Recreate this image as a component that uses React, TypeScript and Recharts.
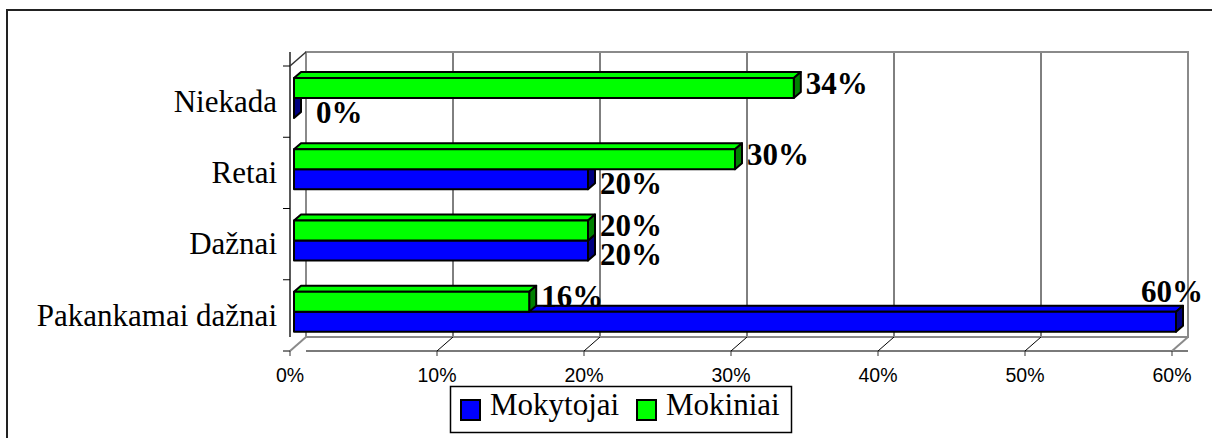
import React from 'react';
import { BarChart, Bar, XAxis, YAxis, CartesianGrid, ReferenceArea, LabelList } from 'recharts';

// ---- data ----
const categories = ['Niekada', 'Retai', 'Dažnai', 'Pakankamai dažnai'];
const mokytojaiValues = [0, 20, 20, 60];
const mokiniaiValues = [34, 30, 20, 16];
const xTicks = [0, 10, 20, 30, 40, 50, 60];
const seriesNames = ['Mokytojai', 'Mokiniai'];

const data = categories.map((name, i) => ({
  name,
  mokytojai: mokytojaiValues[i],
  mokiniai: mokiniaiValues[i],
}));

// ---- style / layout ----
const W = 1212;
const H = 438;
const BLUE = '#0000FF';
const BLUE_SIDE = '#000080';
const GREEN = '#00FF00';
const GREEN_SIDE = '#008000';
const seriesColors = [BLUE, GREEN];
const DEPTH_X = 16;
const DEPTH_Y = 14;
const BAR_DX = -12;
const BAR_DY = 10;
const FACE_DX = 7;
const FACE_DY = 6;
const SERIF = '"Liberation Serif", "Times New Roman", serif';
const SANS = '"Liberation Sans", Arial, sans-serif';
const WALL = '#8a8a8a';
const LEGEND_ITEM_X = [460, 636];

function Bar3D(props: any) {
  const { x, y, width, height, face, side, shift } = props;
  if (x == null || y == null) return null;
  const w = Math.max(0, width || 0);
  const h = height || 0;
  const fx = x + BAR_DX;
  const fy = y + BAR_DY + shift * h;
  const top = `${fx},${fy} ${fx + FACE_DX},${fy - FACE_DY} ${fx + w + FACE_DX},${fy - FACE_DY} ${fx + w},${fy}`;
  const sideP = `${fx + w},${fy} ${fx + w + FACE_DX},${fy - FACE_DY} ${fx + w + FACE_DX},${fy + h - FACE_DY} ${fx + w},${fy + h}`;
  return (
    <g stroke="#000" strokeWidth={2} strokeLinejoin="round">
      <polygon points={top} fill={face} />
      <polygon points={sideP} fill={side} />
      {w > 0 && <rect x={fx} y={fy} width={w} height={h} fill={face} />}
    </g>
  );
}

function ValueLabel(props: any) {
  const vb = props.viewBox || props;
  const { shift, dyC } = props;
  const w = Math.max(0, vb.width || 0);
  const h = vb.height || 0;
  const fx = vb.x + BAR_DX;
  const fy = vb.y + BAR_DY + shift * h;
  const end = fx + w;
  const text = `${props.value}%`;
  if (end + 12 + 64 > W) {
    return (
      <text x={end + 27} y={fy - 10} textAnchor="end" fontFamily={SERIF} fontWeight={700} fontSize={31} fill="#000">
        {text}
      </text>
    );
  }
  const gap = w > 0 ? 12 : 22;
  return (
    <text x={end + gap} y={fy + h / 2 + dyC + 10.5} textAnchor="start" fontFamily={SERIF} fontWeight={700} fontSize={31} fill="#000">
      {text}
    </text>
  );
}

function BackXTick(props: any) {
  const { x, y, index, visibleTicksCount } = props;
  const edge = index === 0 || index === visibleTicksCount - 1;
  return (
    <line x1={x} y1={y} x2={x - DEPTH_X} y2={y + DEPTH_Y} stroke={edge ? WALL : '#000'} strokeWidth={edge ? 2 : 1} />
  );
}

function FrontXTick(props: any) {
  const { x, y, payload } = props;
  return (
    <g>
      <line x1={x} y1={y} x2={x} y2={y + 5} stroke="#333" strokeWidth={1} />
      <text x={x} y={y + 31} textAnchor="middle" fontFamily={SANS} fontSize={19.5} fill="#000">
        {`${payload.value}%`}
      </text>
    </g>
  );
}

function FrontYTick(props: any) {
  const { x, y, payload, index, visibleTicksCount, height } = props;
  const n = visibleTicksCount || categories.length;
  const half = (typeof height === 'number' && height > 0 ? height / n : 71.25) / 2;
  return (
    <g>
      <line x1={x - 7} y1={y - half} x2={x} y2={y - half} stroke="#000" strokeWidth={1} />
      {index === n - 1 && <line x1={x - 7} y1={y + half} x2={x} y2={y + half} stroke="#000" strokeWidth={1} />}
      {index === 0 && (
        <line x1={x} y1={y - half} x2={x + DEPTH_X} y2={y - half - DEPTH_Y} stroke="#333" strokeWidth={1.5} />
      )}
      <text x={x - 13} y={y + 10.3} textAnchor="end" fontFamily={SERIF} fontSize={31} fill="#000">
        {payload.value}
      </text>
    </g>
  );
}

export default function App() {
  return (
    <div style={{ position: 'relative', width: W, height: H, overflow: 'hidden', background: '#fff' }}>
      <style>{'body{margin:0}'}</style>
      <div
        style={{
          position: 'absolute',
          left: 6,
          top: 9,
          width: W + 20,
          height: H + 20,
          border: '2px solid #222',
          boxSizing: 'border-box',
        }}
      />
      <BarChart
        width={W}
        height={H}
        data={data}
        layout="vertical"
        margin={{ top: 52, right: 24, bottom: 27, left: 16 }}
        barSize={20}
        barGap={0}
      >
        <CartesianGrid horizontal={false} stroke="#000" strokeWidth={1} />
        <ReferenceArea x1={0} x2={60} stroke={WALL} strokeWidth={2} fill="none" />
        <XAxis
          type="number"
          domain={[0, 60]}
          ticks={xTicks}
          interval={0}
          height={14}
          axisLine={false}
          tickLine={false}
          tickSize={0}
          tickMargin={0}
          tick={<BackXTick />}
        />
        <XAxis
          xAxisId="front"
          type="number"
          domain={[0, 60]}
          allowDataOverflow
          ticks={xTicks}
          interval={0}
          height={60}
          padding={{ left: -DEPTH_X, right: DEPTH_X }}
          axisLine={{ stroke: '#7a7a7a', strokeWidth: 2 }}
          tickLine={false}
          tickSize={0}
          tickMargin={0}
          tick={<FrontXTick />}
        />
        <YAxis type="category" dataKey="name" width={16} axisLine={false} tickLine={false} tick={false} />
        <YAxis
          yAxisId="front"
          type="category"
          dataKey="name"
          width={274}
          interval={0}
          padding={{ top: DEPTH_Y, bottom: -DEPTH_Y }}
          axisLine={{ stroke: '#222', strokeWidth: 1.5 }}
          tickLine={false}
          tickSize={0}
          tickMargin={0}
          tick={<FrontYTick />}
        />
        <Bar
          dataKey="mokytojai"
          name={seriesNames[0]}
          fill={BLUE}
          isAnimationActive={false}
          shape={(p: any) => <Bar3D {...p} face={BLUE} side={BLUE_SIDE} shift={1} />}
        >
          <LabelList dataKey="mokytojai" content={(p: any) => <ValueLabel {...p} shift={1} dyC={4} />} />
        </Bar>
        <Bar
          dataKey="mokiniai"
          name={seriesNames[1]}
          fill={GREEN}
          isAnimationActive={false}
          shape={(p: any) => <Bar3D {...p} face={GREEN} side={GREEN_SIDE} shift={-1} />}
        >
          <LabelList dataKey="mokiniai" content={(p: any) => <ValueLabel {...p} shift={-1} dyC={-5} />} />
        </Bar>
      </BarChart>
      <svg width={W} height={H} style={{ position: 'absolute', left: 0, top: 0, pointerEvents: 'none' }}>
        <rect x={450.5} y={386.5} width={341} height={46} fill="#fff" stroke="#000" strokeWidth={1.5} />
        {seriesNames.map((name, i) => (
          <g key={name}>
            <rect x={LEGEND_ITEM_X[i] + 1} y={400} width={19} height={20} fill={seriesColors[i]} stroke="#000" strokeWidth={2} />
            <text x={LEGEND_ITEM_X[i] + 30} y={415} fontFamily={SERIF} fontSize={31} fill="#000">
              {name}
            </text>
          </g>
        ))}
      </svg>
    </div>
  );
}
